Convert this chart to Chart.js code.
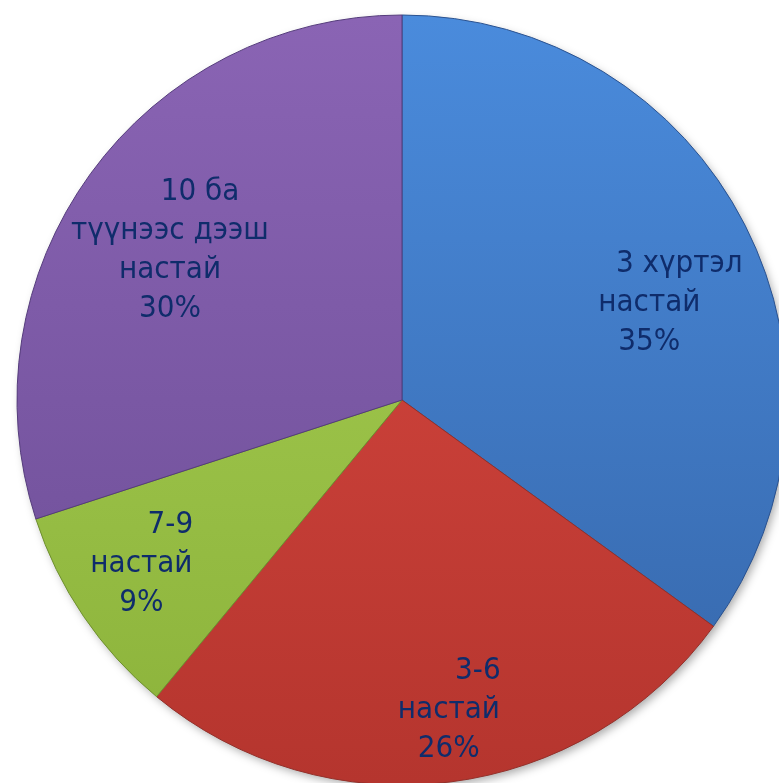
<!DOCTYPE html>
<html>
<head>
<meta charset="utf-8">
<script src="https://cdn.jsdelivr.net/npm/chart.js@4/dist/chart.umd.min.js"></script>
<style>
  html, body { margin: 0; padding: 0; background: #fff; }
  #wrap { width: 779px; height: 783px; }
</style>
</head>
<body>
<div id="wrap"><canvas id="ageChart"></canvas></div>
<script>
// data
const ageGroups = [['3 хүртэл', 'настай'], ['3-6', 'настай'], ['7-9', 'настай'], ['10 ба', 'түүнээс дээш', 'настай']];
const shares = [35, 26, 9, 30];

// colours (light top, dark bottom)
const lightColors = ['#4a8bdc', '#dc4a42', '#a9d055', '#8a64b4'];
const darkColors = ['#3565a8', '#b5352e', '#8bb23a', '#6a4c94'];
const edgeColors = ['#2a5290', '#93302a', '#6f9030', '#553c7c'];
// label placement: part of the radius, and a small turn off the mid angle (deg)
const labelRadius = [0.69, 0.814, 0.80, 0.717];
const labelTurn = [5.6, -1.4, 2.0, -3.2];
const firstLineShift = [30, 29, 29, 30];

const sliceFill = (ctx) => {
  const chart = ctx.chart;
  const area = chart.chartArea;
  if (!area) return lightColors[ctx.dataIndex];
  const g = chart.ctx.createLinearGradient(0, area.top, 0, area.bottom);
  g.addColorStop(0, lightColors[ctx.dataIndex]);
  g.addColorStop(1, darkColors[ctx.dataIndex]);
  return g;
};

// soft shadow under the pie
const pieShadow = {
  id: 'pieShadow',
  beforeDatasetsDraw(chart) {
    const arc = chart.getDatasetMeta(0).data[0];
    if (!arc) return;
    const ctx = chart.ctx;
    ctx.save();
    ctx.shadowColor = 'rgba(0,0,0,0.35)';
    ctx.shadowBlur = 10;
    ctx.shadowOffsetX = 3;
    ctx.shadowOffsetY = 4;
    ctx.fillStyle = '#888';
    ctx.beginPath();
    ctx.arc(arc.x, arc.y, arc.outerRadius - 1, 0, Math.PI * 2);
    ctx.fill();
    ctx.restore();
  }
};

const pieLabels = {
  id: 'pieLabels',
  afterDatasetsDraw(chart) {
    const ctx = chart.ctx;
    const meta = chart.getDatasetMeta(0);
    ctx.save();
    ctx.fillStyle = '#0f2c6b';
    ctx.font = '31px "DejaVu Sans Condensed", "DejaVu Sans"';
    ctx.textAlign = 'center';
    ctx.textBaseline = 'middle';
    meta.data.forEach((arc, i) => {
      const mid = (arc.startAngle + arc.endAngle) / 2 + labelTurn[i] * Math.PI / 180;
      const r = arc.outerRadius * labelRadius[i];
      const x = arc.x + Math.cos(mid) * r;
      const y = arc.y + Math.sin(mid) * r;
      const lines = ageGroups[i].concat([shares[i] + '%']);
      const lh = 39;
      lines.forEach((t, k) => {
        const dx = k === 0 ? firstLineShift[i] : 0;
        ctx.fillText(t, x + dx, y + (k - (lines.length - 1) / 2) * lh);
      });
    });
    ctx.restore();
  }
};

new Chart(document.getElementById('ageChart'), {
  type: 'pie',
  data: {
    labels: ageGroups.map(l => l.join(' ')),
    datasets: [{
      data: shares,
      backgroundColor: sliceFill,
      borderColor: edgeColors,
      borderWidth: 1
    }]
  },
  options: {
    responsive: true,
    maintainAspectRatio: false,
    animation: false,
    radius: 385,
    layout: { padding: { left: 25, top: 17, right: 0, bottom: 0 } },
    plugins: {
      legend: { display: false },
      tooltip: { enabled: false }
    }
  },
  plugins: [pieShadow, pieLabels]
});
</script>
</body>
</html>
